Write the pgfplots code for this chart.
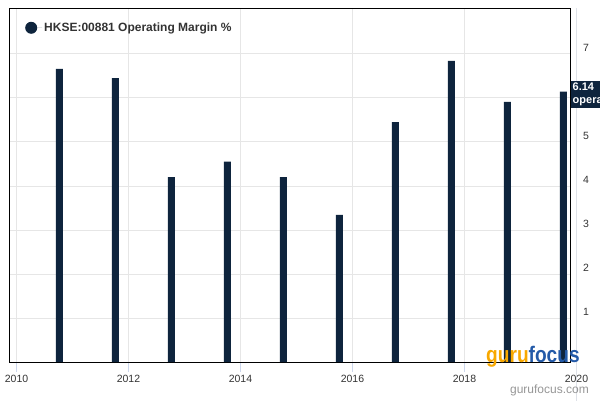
\documentclass[border=0pt]{standalone}
\usepackage{fontspec}
\setmainfont{Liberation Sans}
\newfontfamily\logofont[FakeStretch=0.85]{Liberation Sans Bold}
\usepackage{pgfplots}
\pgfplotsset{compat=1.18}
\definecolor{barc}{RGB}{14,36,61}
\definecolor{gridc}{RGB}{230,230,230}
\definecolor{tickc}{RGB}{204,214,235}
\definecolor{txt}{RGB}{51,51,51}
\definecolor{guruorange}{RGB}{248,168,0}
\definecolor{gurublue}{RGB}{36,90,168}
\definecolor{comgray}{RGB}{150,150,150}
\begin{document}
\begin{tikzpicture}
\useasboundingbox (0pt,0pt) rectangle (600pt,400pt);
\clip (0pt,0pt) rectangle (600pt,400pt);
\begin{axis}[
  at={(9pt,38pt)}, anchor=south west,
  scale only axis, width=561.5pt, height=353.5pt,
  xmin=-0.134, xmax=9.893, ymin=0, ymax=8.03,
  axis line style={black, line width=0.8pt},
  xtick={0,2,4,6,8},
  xticklabels={2010,2012,2014,2016,2018},
  ytick={1,2,3,4,5,6,7},
  yticklabels={1,2,3,4,5,{},7},
  /pgf/number format/assume math mode=true,
  xtick pos=bottom, yticklabel pos=right,
  tick align=outside, major tick length=10pt,
  xtick style={draw=tickc, line width=0.8pt},
  ytick style={draw=none},
  grid=major, major grid style={draw=gridc, line width=0.8pt},
  xticklabel style={font=\fontsize{10.5}{12}\selectfont, text=txt},
  yticklabel style={font=\fontsize{10.5}{12}\selectfont, text=txt, anchor=west, xshift=-1pt, yshift=6pt},
  clip=false,
  legend cell align=left,
  legend style={draw=none, fill=none, at={(axis description cs:0,1)}, anchor=north west,
    xshift=13pt, yshift=-10pt, font=\bfseries\fontsize{12}{14}\selectfont, text=txt},
  legend image code/.code={\fill[barc] (6pt,0pt) circle (6pt); \path (0pt,0pt) -- (17pt,0pt);},
]
\addplot[ybar, bar width=7pt, fill=barc, draw=none] coordinates {
  (0.765,6.66) (1.765,6.45) (2.765,4.20) (3.765,4.55) (4.765,4.20)
  (5.765,3.34) (6.765,5.45) (7.765,6.84) (8.765,5.91) (9.765,6.14)
};
\addlegendentry{HKSE:00881 Operating Margin \%}
\draw[draw=gridc!70!tickc, line width=0.8pt] (axis cs:10,-1.3) -- (axis cs:10,8.03);
\node[anchor=north, font=\fontsize{10.5}{12}\selectfont, text=txt] at (axis cs:10,-0.227) {2020};
\node[anchor=west, fill=barc, text=white, font=\bfseries\fontsize{11}{13}\selectfont, align=left, inner sep=2pt] at (axis cs:9.893,6.08) {6.14\\operating margin};
\end{axis}
\node[anchor=base west, inner sep=0pt, font=\logofont\fontsize{22.5}{22}\selectfont] at (486pt,38pt) {\textcolor{guruorange}{guru}\textcolor{gurublue}{focus}};
\node[anchor=base east, inner sep=0pt, font=\fontsize{12}{12}\selectfont, text=comgray] at (589pt,7pt) {gurufocus.com};
\end{tikzpicture}
\end{document}
